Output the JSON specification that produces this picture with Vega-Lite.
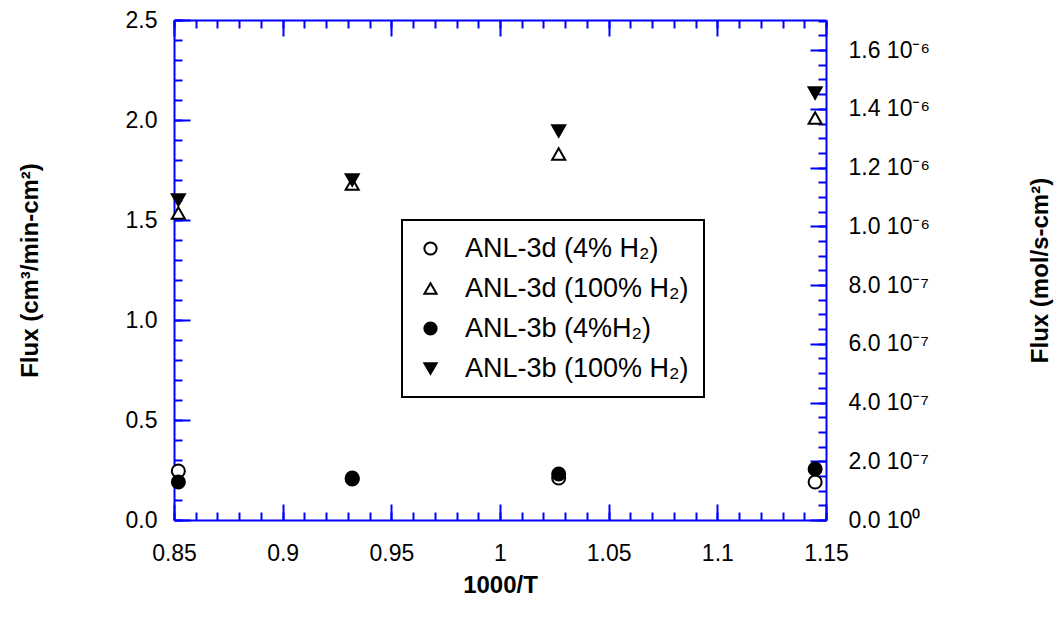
{
  "$schema": "https://vega.github.io/schema/vega-lite/v6.json",
  "width": 652,
  "height": 500,
  "autosize": {"type": "none"},
  "padding": {"left": 174, "top": 20, "right": 234, "bottom": 106},
  "background": "white",
  "data": {"values": [
    {"series": "ANL-3d (4% H₂)", "invT": 0.852, "flux": 0.245},
    {"series": "ANL-3d (4% H₂)", "invT": 0.932, "flux": 0.205},
    {"series": "ANL-3d (4% H₂)", "invT": 1.027, "flux": 0.21},
    {"series": "ANL-3d (4% H₂)", "invT": 1.145, "flux": 0.19},
    {"series": "ANL-3d (100% H₂)", "invT": 0.852, "flux": 1.535},
    {"series": "ANL-3d (100% H₂)", "invT": 0.932, "flux": 1.68},
    {"series": "ANL-3d (100% H₂)", "invT": 1.027, "flux": 1.83},
    {"series": "ANL-3d (100% H₂)", "invT": 1.145, "flux": 2.01},
    {"series": "ANL-3b (4%H₂)", "invT": 0.852, "flux": 0.19},
    {"series": "ANL-3b (4%H₂)", "invT": 0.932, "flux": 0.21},
    {"series": "ANL-3b (4%H₂)", "invT": 1.027, "flux": 0.23},
    {"series": "ANL-3b (4%H₂)", "invT": 1.145, "flux": 0.255},
    {"series": "ANL-3b (100% H₂)", "invT": 0.852, "flux": 1.6},
    {"series": "ANL-3b (100% H₂)", "invT": 0.932, "flux": 1.7},
    {"series": "ANL-3b (100% H₂)", "invT": 1.027, "flux": 1.945},
    {"series": "ANL-3b (100% H₂)", "invT": 1.145, "flux": 2.135}
  ]},
  "resolve": {"axis": {"x": "independent", "y": "independent"}},
  "layer": [
    {
      "mark": {"type": "point", "filled": true, "strokeWidth": 2, "size": 170, "opacity": 1},
      "encoding": {
        "x": {"field": "invT", "type": "quantitative",
          "scale": {"domain": [0.85, 1.15], "nice": false, "zero": false},
          "axis": {"orient": "bottom", "values": [0.85, 0.9, 0.95, 1, 1.05, 1.1, 1.15], "format": "~g", "ticks": false, "labelPadding": 22, "labelOverlap": false, "labelFlush": false,
            "title": "1000/T", "titleX": 326, "titleY": 65, "titleBaseline": "middle"}},
        "y": {"field": "flux", "type": "quantitative",
          "scale": {"domain": [0, 2.5], "nice": false, "zero": true},
          "axis": {"orient": "left", "values": [0, 0.5, 1, 1.5, 2, 2.5], "format": ".1f", "ticks": false, "labelPadding": 17, "labelOverlap": false, "labelFlush": false,
            "title": "Flux (cm³/min-cm²)", "titleX": -144, "titleY": 250, "titleAngle": 270, "titleBaseline": "middle", "titleAlign": "center"}},
        "shape": {"field": "series", "type": "nominal",
          "scale": {"domain": ["ANL-3d (4% H₂)", "ANL-3d (100% H₂)", "ANL-3b (4%H₂)", "ANL-3b (100% H₂)"], "range": ["circle", "triangle-up", "circle", "triangle-down"]},
          "legend": {"title": null}},
        "fill": {"field": "series", "type": "nominal",
          "scale": {"domain": ["ANL-3d (4% H₂)", "ANL-3d (100% H₂)", "ANL-3b (4%H₂)", "ANL-3b (100% H₂)"], "range": ["white", "white", "black", "black"]},
          "legend": {"title": null}},
        "stroke": {"field": "series", "type": "nominal",
          "scale": {"domain": ["ANL-3d (4% H₂)", "ANL-3d (100% H₂)", "ANL-3b (4%H₂)", "ANL-3b (100% H₂)"], "range": ["black", "black", "black", "black"]},
          "legend": {"title": null}}
      }
    },
    {
      "mark": {"type": "point", "opacity": 0},
      "encoding": {
        "x": {"field": "invT", "type": "quantitative",
          "axis": {"orient": "bottom", "values": [0.85, 0.9, 0.95, 1, 1.05, 1.1, 1.15], "labels": false, "domain": false, "tickSize": -16, "title": null}},
        "y": {"field": "flux", "type": "quantitative",
          "axis": {"orient": "left", "values": [0, 0.5, 1, 1.5, 2, 2.5], "labels": false, "domain": false, "tickSize": -16, "title": null}}
      }
    },
    {
      "mark": {"type": "point", "opacity": 0},
      "encoding": {
        "x": {"field": "invT", "type": "quantitative",
          "axis": {"orient": "bottom", "values": [0.85,0.86,0.87,0.88,0.89,0.9,0.91,0.92,0.93,0.94,0.95,0.96,0.97,0.98,0.99,1,1.01,1.02,1.03,1.04,1.05,1.06,1.07,1.08,1.09,1.1,1.11,1.12,1.13,1.14,1.15], "labels": false, "domain": false, "tickSize": -8, "title": null}},
        "y": {"field": "flux", "type": "quantitative",
          "axis": {"orient": "left", "values": [0,0.1,0.2,0.3,0.4,0.5,0.6,0.7,0.8,0.9,1,1.1,1.2,1.3,1.4,1.5,1.6,1.7,1.8,1.9,2,2.1,2.2,2.3,2.4,2.5], "labels": false, "domain": false, "tickSize": -8, "title": null}}
      }
    },
    {
      "mark": {"type": "point", "opacity": 0},
      "encoding": {
        "x": {"field": "invT", "type": "quantitative",
          "axis": {"orient": "top", "values": [0.85, 0.9, 0.95, 1, 1.05, 1.1, 1.15], "labels": false, "domain": true, "tickSize": -16, "title": null}},
        "y": {"field": "flux", "type": "quantitative",
          "axis": {"orient": "right", "values": [0, 0.2937, 0.5874, 0.8811, 1.1747, 1.4684, 1.7621, 2.0558, 2.3495],
            "labelExpr": "['0.0 10⁰','2.0 10⁻⁷','4.0 10⁻⁷','6.0 10⁻⁷','8.0 10⁻⁷','1.0 10⁻⁶','1.2 10⁻⁶','1.4 10⁻⁶','1.6 10⁻⁶'][round(datum.value/0.29369)]",
            "ticks": false, "labelPadding": 22, "labelOverlap": false, "labelFlush": false,
            "title": "Flux (mol/s-cm²)", "titleX": 214, "titleY": 250, "titleAngle": 270, "titleBaseline": "middle", "titleAlign": "center"}}
      }
    },
    {
      "mark": {"type": "point", "opacity": 0},
      "encoding": {
        "x": {"field": "invT", "type": "quantitative",
          "axis": {"orient": "top", "values": [0.85,0.86,0.87,0.88,0.89,0.9,0.91,0.92,0.93,0.94,0.95,0.96,0.97,0.98,0.99,1,1.01,1.02,1.03,1.04,1.05,1.06,1.07,1.08,1.09,1.1,1.11,1.12,1.13,1.14,1.15], "labels": false, "domain": false, "tickSize": -8, "title": null}},
        "y": {"field": "flux", "type": "quantitative",
          "axis": {"orient": "right", "values": [0, 0.2937, 0.5874, 0.8811, 1.1747, 1.4684, 1.7621, 2.0558, 2.3495], "labels": false, "domain": false, "tickSize": -16, "title": null}}
      }
    },
    {
      "mark": {"type": "point", "opacity": 0},
      "encoding": {
        "x": {"field": "invT", "type": "quantitative", "axis": null},
        "y": {"field": "flux", "type": "quantitative",
          "axis": {"orient": "right", "values": [0,0.0734,0.1468,0.2203,0.2937,0.3671,0.4405,0.5139,0.5874,0.6608,0.7342,0.8076,0.8811,0.9545,1.0279,1.1013,1.1747,1.2482,1.3216,1.395,1.4684,1.5418,1.6153,1.6887,1.7621,1.8355,1.9089,1.9824,2.0558,2.1292,2.2026,2.2761,2.3495,2.4229,2.4963], "labels": false, "domain": false, "tickSize": -8, "title": null}}
      }
    }
  ],
  "config": {
    "font": "Liberation Sans",
    "view": {"stroke": null},
    "axis": {
      "grid": false,
      "domainColor": "#0000ff", "domainWidth": 2,
      "tickColor": "#0000ff", "tickWidth": 2,
      "labelFont": "Liberation Sans", "labelFontSize": 23, "labelColor": "black",
      "titleFont": "Liberation Sans", "titleFontSize": 24, "titleFontWeight": "bold", "titleColor": "black"
    },
    "legend": {
      "orient": "none", "legendX": 228, "legendY": 200,
      "strokeColor": "black", "strokeWidth": 2, "fillColor": "white", "padding": 15,
      "labelFont": "Liberation Sans", "labelFontSize": 27, "labelColor": "black", "labelLimit": 600,
      "symbolSize": 150, "symbolStrokeWidth": 2,
      "rowPadding": 12, "labelOffset": 21
    }
  }
}
